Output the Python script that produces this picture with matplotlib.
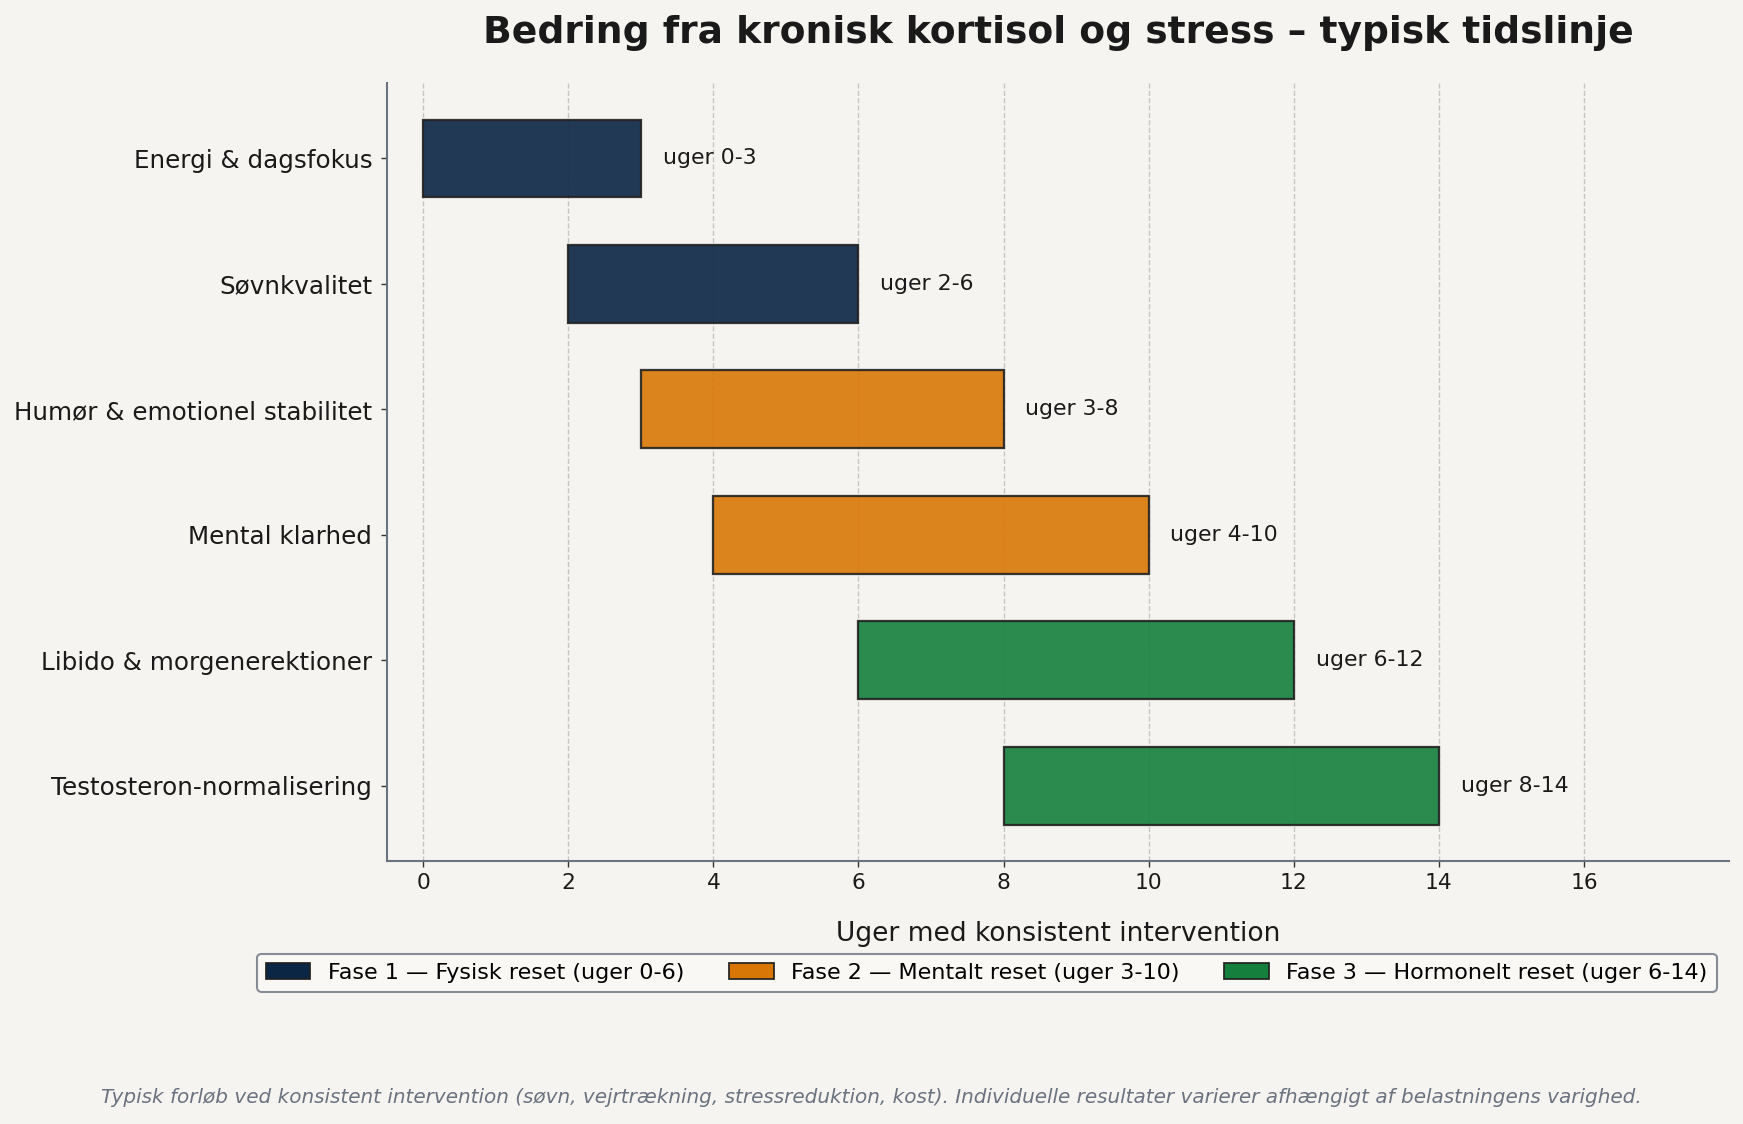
import matplotlib.pyplot as plt
from matplotlib.patches import Patch

labels = ["Energi & dagsfokus", "Søvnkvalitet", "Humør & emotionel stabilitet",
          "Mental klarhed", "Libido & morgenerektioner", "Testosteron-normalisering"]
starts = [0, 2, 3, 4, 6, 8]
ends = [3, 6, 8, 10, 12, 14]
phases = [1, 1, 2, 2, 3, 3]

phase_colors = {1: "#0b2545", 2: "#d97706", 3: "#15803d"}
phase_names = {1: "Fase 1 — Fysisk reset (uger 0-6)",
               2: "Fase 2 — Mentalt reset (uger 3-10)",
               3: "Fase 3 — Hormonelt reset (uger 6-14)"}

bg = "#f5f4f0"
fig, ax = plt.subplots(figsize=(13.944, 8.992), dpi=125)
fig.patch.set_facecolor(bg)
ax.set_facecolor(bg)
fig.subplots_adjust(left=0.222, right=0.992, top=0.926, bottom=0.234)

for i, (s, e, p) in enumerate(zip(starts, ends, phases)):
    ax.barh(i, e - s, left=s, height=0.62, color=phase_colors[p], alpha=0.9,
            edgecolor="#222222", linewidth=1.3, zorder=3)
    ax.text(e + 0.3, i, f"uger {s}-{e}", va="center", ha="left", fontsize=12.7,
            color="#1a1a1a", zorder=4)

ax.set_yticks(range(len(labels)))
ax.set_yticklabels(labels, fontsize=14.2, color="#1a1a1a")
ax.set_ylim(5.6, -0.6)
ax.set_xlim(-0.5, 18)
ax.set_xticks(range(0, 17, 2))
ax.tick_params(axis="x", labelsize=12.5, colors="#1a1a1a")
ax.tick_params(axis="y", pad=5)
ax.tick_params(axis="both", color="#333333")
ax.set_xlabel("Uger med konsistent intervention", fontsize=15.3, color="#1a1a1a", labelpad=16)
ax.set_title("Bedring fra kronisk kortisol og stress – typisk tidslinje",
             fontsize=21.7, fontweight="bold", color="#1a1a1a", pad=23)

ax.grid(axis="x", linestyle="--", color="#bbbbbb", alpha=0.8, zorder=0)
ax.set_axisbelow(True)
for side in ["top", "right"]:
    ax.spines[side].set_visible(False)
for side in ["left", "bottom"]:
    ax.spines[side].set_color("#6b7280")
    ax.spines[side].set_linewidth(1.2)

handles = [Patch(facecolor=phase_colors[p], edgecolor="#222222", label=phase_names[p])
           for p in (1, 2, 3)]
leg = ax.legend(handles=handles, loc="upper center", bbox_to_anchor=(0.447, -0.105),
                ncol=3, fontsize=12.8, frameon=True, fancybox=True)
leg.get_frame().set_facecolor("#fbfaf7")
leg.get_frame().set_edgecolor("#6b7280")
leg.get_frame().set_linewidth(1.2)

fig.text(0.5, 0.024, "Typisk forløb ved konsistent intervention (søvn, vejrtrækning, stressreduktion, kost). "
         "Individuelle resultater varierer afhængigt af belastningens varighed.",
         ha="center", va="center", fontsize=11.5, style="italic", color="#6b7280")

fig.savefig("out.png", dpi=125, facecolor=bg)
